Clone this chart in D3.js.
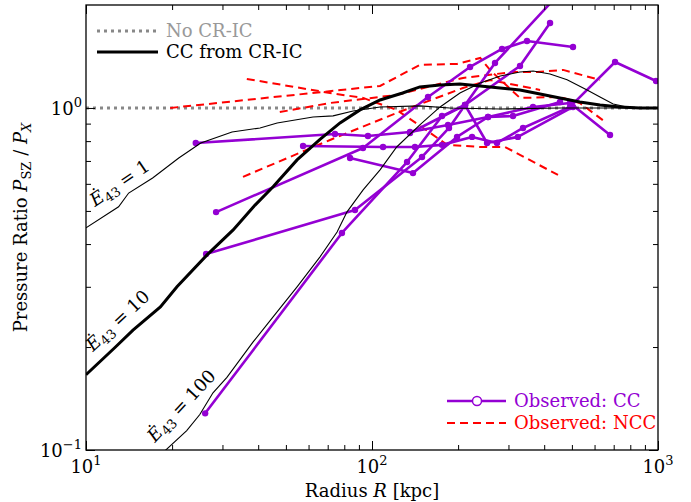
<!DOCTYPE html>
<html>
<head>
<meta charset="utf-8">
<script src="https://cdn.jsdelivr.net/npm/d3@7"></script>
<style>
  body { margin: 0; background: #fff; }
  text { font-family: "DejaVu Serif", serif; }
</style>
</head>
<body>
<svg id="chart" width="691" height="502"></svg>
<script>
"use strict";

// model curves (R in kpc, ratio P_SZ/P_X)
const noCrR = [10, 1000];
const noCrP = [1, 1];

const e1R = [10, 13.0, 14.1, 17.1, 21.1, 25.2, 32.4, 40.6, 46.6, 62.2, 73.1, 85.9, 106.7, 147, 187, 281, 454, 1000];
const e1P = [0.446, 0.514, 0.564, 0.624, 0.714, 0.79, 0.851, 0.874, 0.904, 0.941, 0.948, 0.98, 1.007, 1.014, 1.0, 0.993, 1.0, 1.0];

const e10R = [10, 12.6, 14.6, 18.2, 20.8, 26.5, 32.7, 39.0, 45.1, 54.7, 65.8, 77.3, 90.8, 106.7, 128, 147, 173, 203, 259, 329, 387, 454, 533, 627, 736, 865, 1000];
const e10P = [0.166, 0.199, 0.224, 0.262, 0.30, 0.372, 0.44, 0.52, 0.588, 0.705, 0.81, 0.904, 0.987, 1.055, 1.106, 1.152, 1.168, 1.175, 1.152, 1.129, 1.099, 1.07, 1.041, 1.02, 1.007, 1.0, 1.0];

const e100R = [17.8, 22.5, 25.0, 27.8, 31.1, 38.4, 45.1, 54.7, 65.8, 75.5, 81.8, 93.1, 106.7, 122, 147, 173, 203, 239, 281, 329, 366, 419, 481, 565, 627, 697, 780, 865, 1000];
const e100P = [0.095, 0.114, 0.127, 0.147, 0.163, 0.207, 0.245, 0.30, 0.367, 0.434, 0.497, 0.576, 0.659, 0.769, 0.892, 1.007, 1.106, 1.183, 1.24, 1.274, 1.283, 1.257, 1.21, 1.129, 1.077, 1.027, 1.007, 1.0, 1.0];

// observed non cool core clusters
const ncc1R = [19.7, 106.7, 147, 198, 239, 259, 329, 454, 533, 643];
const ncc1P = [1.0, 1.16, 1.336, 1.345, 1.40, 1.29, 1.07, 1.077, 1.034, 0.92];
const ncc2R = [36.5, 71.3, 93.1, 122, 151, 183, 239, 292, 447];
const ncc2P = [1.216, 1.106, 1.07, 0.987, 0.874, 0.78, 0.769, 0.769, 0.637];
const ncc3R = [47.6, 71.3, 122, 208, 311, 378, 466, 627];
const ncc3P = [0.973, 1.034, 1.092, 1.224, 1.274, 1.274, 1.292, 1.207];
const ncc4R = [35.4, 71.3, 122, 208, 259, 387];
const ncc4P = [0.629, 0.806, 0.967, 1.144, 1.207, 1.129];

// observed cool core clusters
const cc1R = [24.2, 74.2, 96.8, 135.8, 184.4, 254.5, 365.6, 492.4, 679.6];
const cc1P = [0.79, 0.839, 0.828, 0.851, 0.892, 0.941, 1.007, 1.034, 0.834];
const cc2R = [57.4, 109.3, 141.3, 175.7, 223.8, 273.6, 337.3, 492.4, 707.7, 984.6];
const cc2P = [0.774, 0.769, 0.769, 0.78, 0.823, 0.79, 0.874, 1.007, 1.363, 1.199];
const cc3R = [28.5, 93.0, 157.0, 220.2, 284.8, 348.3, 504.5];
const cc3P = [0.496, 0.764, 1.077, 1.318, 1.488, 1.57, 1.508];
const cc4R = [26.3, 87.2, 149.6, 185.9, 211.5, 269.2, 484];
const cc4P = [0.374, 0.503, 0.719, 0.874, 1.02, 1.354, 2.3];
const cc5R = [26.1, 78.5, 132.6, 175.7, 211.5, 329.2, 419.3];
const cc5P = [0.128, 0.431, 0.695, 0.947, 1.02, 1.327, 1.772];
const cc6R = [83.8, 139.1, 198.3, 254.5, 311.2, 454.3];
const cc6P = [0.714, 0.645, 0.823, 0.941, 0.947, 1.041];
const cc7R = [135.8, 211.5, 252.5, 323.6, 504.5];
const cc7P = [0.845, 1.02, 0.79, 0.823, 1.007];

const xMajor = [10, 100, 1000];
const xMinor = [20, 30, 40, 50, 60, 70, 80, 90, 200, 300, 400, 500, 600, 700, 800, 900];
const yMajor = [0.1, 1];
const yMinor = [0.2, 0.3, 0.4, 0.5, 0.6, 0.7, 0.8, 0.9];
const xLabels = [["10", "1"], ["10", "2"], ["10", "3"]];
const yLabels = [["10", "\u22121"], ["10", "0"]];

const purple = "#9400d3", red = "#ff0000";

const svg = d3.select("#chart");
const pl = 86, pr = 658, pt = 5, pb = 450;

const x = d3.scaleLog().domain([10, 1000]).range([pl, pr]);
const y = d3.scaleLog().domain([0.1, 2]).range([pb, pt]);

const pts = (R, P) => R.map((r, i) => [r, P[i]]);
const line = d3.line().x(d => x(d[0])).y(d => y(d[1]));

svg.append("clipPath").attr("id", "clip")
  .append("rect").attr("x", pl).attr("y", pt)
  .attr("width", pr - pl).attr("height", pb - pt);

const plot = svg.append("g").attr("clip-path", "url(#clip)");

// no CR-IC
plot.append("path").attr("d", line(pts(noCrR, noCrP)))
  .attr("fill", "none").attr("stroke", "#888").attr("stroke-width", 3)
  .attr("stroke-dasharray", "3,4");

// NCC dashed
[[ncc1R, ncc1P], [ncc2R, ncc2P], [ncc3R, ncc3P], [ncc4R, ncc4P]].forEach(s => {
  plot.append("path").attr("d", line(pts(s[0], s[1])))
    .attr("fill", "none").attr("stroke", red).attr("stroke-width", 2)
    .attr("stroke-dasharray", "8,5");
});

// CC observed
[[cc1R, cc1P], [cc2R, cc2P], [cc3R, cc3P], [cc4R, cc4P], [cc5R, cc5P], [cc6R, cc6P], [cc7R, cc7P]].forEach(s => {
  const d = pts(s[0], s[1]);
  plot.append("path").attr("d", line(d))
    .attr("fill", "none").attr("stroke", purple).attr("stroke-width", 2.6)
    .attr("stroke-linejoin", "round");
  plot.selectAll(null).data(d).enter().append("circle")
    .attr("cx", p => x(p[0])).attr("cy", p => y(p[1])).attr("r", 3.2)
    .attr("fill", purple);
});

// model curves
plot.append("path").attr("d", line(pts(e1R, e1P)))
  .attr("fill", "none").attr("stroke", "#000").attr("stroke-width", 1.1);
plot.append("path").attr("d", line(pts(e100R, e100P)))
  .attr("fill", "none").attr("stroke", "#000").attr("stroke-width", 1.1);
plot.append("path").attr("d", line(pts(e10R, e10P)))
  .attr("fill", "none").attr("stroke", "#000").attr("stroke-width", 3);

// ticks, pointing inward on all sides
function ticks(axis, vals, size, tr) {
  const g = svg.append("g").attr("transform", tr)
    .call(axis.tickValues(vals).tickSize(-size).tickFormat(""));
  g.select(".domain").remove();
  g.selectAll("line").attr("stroke", "#000").attr("stroke-width", 1);
}
ticks(d3.axisBottom(x), xMajor, 9, `translate(0,${pb})`);
ticks(d3.axisBottom(x), xMinor, 5, `translate(0,${pb})`);
ticks(d3.axisTop(x), xMajor, 9, `translate(0,${pt})`);
ticks(d3.axisTop(x), xMinor, 5, `translate(0,${pt})`);
ticks(d3.axisLeft(y), yMajor, 9, `translate(${pl},0)`);
ticks(d3.axisLeft(y), yMinor, 5, `translate(${pl},0)`);
ticks(d3.axisRight(y), yMajor, 9, `translate(${pr},0)`);
ticks(d3.axisRight(y), yMinor, 5, `translate(${pr},0)`);

svg.append("rect").attr("x", pl).attr("y", pt)
  .attr("width", pr - pl).attr("height", pb - pt)
  .attr("fill", "none").attr("stroke", "#000").attr("stroke-width", 1.3);

// tick labels with superscripts
xMajor.forEach((v, i) => {
  const t = svg.append("text").attr("x", x(v)).attr("y", 473)
    .attr("text-anchor", "middle").attr("font-size", 18);
  t.append("tspan").text(xLabels[i][0]);
  t.append("tspan").attr("dy", -8).attr("font-size", 13).text(xLabels[i][1]);
});
yMajor.forEach((v, i) => {
  const t = svg.append("text").attr("x", pl - 4).attr("y", y(v) + 7)
    .attr("text-anchor", "end").attr("font-size", 18);
  t.append("tspan").text(yLabels[i][0]);
  t.append("tspan").attr("dy", -8).attr("font-size", 13).text(yLabels[i][1]);
});

// axis titles
const xt = svg.append("text").attr("x", (pl + pr) / 2).attr("y", 497)
  .attr("text-anchor", "middle").attr("font-size", 18);
xt.append("tspan").text("Radius ");
xt.append("tspan").attr("font-style", "italic").text("R");
xt.append("tspan").text(" [kpc]");

const yt = svg.append("text").attr("transform", `translate(27,${(pt + pb) / 2}) rotate(-90)`)
  .attr("text-anchor", "middle").attr("font-size", 18);
yt.append("tspan").text("Pressure Ratio ");
yt.append("tspan").attr("font-style", "italic").text("P");
yt.append("tspan").attr("font-size", 13).attr("dy", 4).text("SZ");
yt.append("tspan").attr("dy", -4).text(" / ");
yt.append("tspan").attr("font-style", "italic").text("P");
yt.append("tspan").attr("font-size", 13).attr("dy", 4).attr("font-style", "italic").text("X");

// curve annotations
function edot(px, py, ang, val) {
  const t = svg.append("text").attr("transform", `translate(${px},${py}) rotate(${ang})`)
    .attr("font-size", 18);
  t.append("tspan").attr("font-style", "italic").text("\u0116");
  t.append("tspan").attr("font-size", 13).attr("dy", 4).text("43");
  t.append("tspan").attr("dy", -4).text(" = " + val);
}
edot(95, 207, -34, "1");
edot(93, 352, -43, "10");
edot(155, 443, -47, "100");

// legend, upper left
svg.append("line").attr("x1", 97).attr("x2", 158).attr("y1", 31).attr("y2", 31)
  .attr("stroke", "#888").attr("stroke-width", 3).attr("stroke-dasharray", "3,4");
svg.append("text").attr("x", 166).attr("y", 37).attr("font-size", 18)
  .attr("fill", "#999").text("No CR-IC");
svg.append("line").attr("x1", 97).attr("x2", 158).attr("y1", 52).attr("y2", 52)
  .attr("stroke", "#000").attr("stroke-width", 3);
svg.append("text").attr("x", 166).attr("y", 58).attr("font-size", 18)
  .attr("fill", "#000").text("CC from CR-IC");

// legend, lower right
svg.append("line").attr("x1", 447).attr("x2", 506).attr("y1", 401).attr("y2", 401)
  .attr("stroke", purple).attr("stroke-width", 2.6);
svg.append("circle").attr("cx", 477).attr("cy", 401).attr("r", 4.5)
  .attr("fill", "#fff").attr("stroke", purple).attr("stroke-width", 1.5);
svg.append("text").attr("x", 514).attr("y", 407).attr("font-size", 18)
  .attr("fill", purple).text("Observed: CC");
svg.append("line").attr("x1", 447).attr("x2", 506).attr("y1", 423).attr("y2", 423)
  .attr("stroke", red).attr("stroke-width", 2).attr("stroke-dasharray", "8,5");
svg.append("text").attr("x", 514).attr("y", 429).attr("font-size", 18)
  .attr("fill", red).text("Observed: NCC");
</script>
</body>
</html>
